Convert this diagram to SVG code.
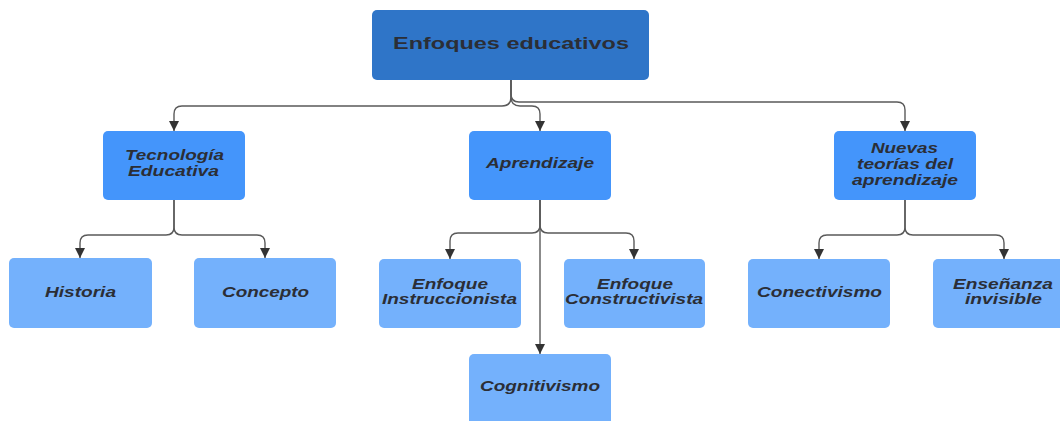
<svg xmlns="http://www.w3.org/2000/svg" width="1060" height="421" viewBox="0 0 1060 421">
<defs>
<marker id="arr" viewBox="0 0 10 10" refX="10" refY="5" markerUnits="userSpaceOnUse" markerWidth="10" markerHeight="10" orient="auto">
<path d="M0,0 L10,5 L0,10 Z" fill="#333"/>
</marker>
<style>
.root{fill:#2f75c8;}
.l2{fill:#4495fb;}
.l3{fill:#74b1fc;}
.t{font-family:"Liberation Sans",Arial,sans-serif;font-weight:bold;font-style:italic;font-size:15.5px;fill:#2b2e36;text-anchor:middle;}
.tr{font-family:"Liberation Sans",Arial,sans-serif;font-weight:bold;font-size:17px;fill:#2b2e36;text-anchor:middle;}
.c{fill:none;stroke:#5a5a5a;stroke-width:1.4;marker-end:url(#arr);}
</style>
</defs>
<rect width="1060" height="421" fill="#ffffff"/>
<g id="connectors">
<path class="c" d="M511,80 V97 Q511,106 502,106 H182 Q174,106 174,114 V131"/>
<path class="c" d="M511,80 V97 Q511,106 520,106 H532 Q540,106 540,114 V131"/>
<path class="c" d="M511,80 V94 Q511,102 519,102 H897 Q905,102 905,110 V131"/>
<path class="c" d="M174,200 V227 Q174,235 166,235 H88 Q80,235 80,243 V258"/>
<path class="c" d="M174,200 V227 Q174,235 182,235 H257 Q265,235 265,243 V258"/>
<path class="c" d="M540,200 V225 Q540,233 532,233 H458 Q450,233 450,241 V259"/>
<path class="c" d="M540,200 V225 Q540,233 548,233 H626 Q634,233 634,241 V259"/>
<path class="c" d="M540,200 V354"/>
<path class="c" d="M905,200 V227 Q905,235 897,235 H827 Q819,235 819,243 V259"/>
<path class="c" d="M905,200 V227 Q905,235 913,235 H996 Q1004,235 1004,243 V259"/>
</g>
<g id="n-enfoques">
<rect class="root" x="372" y="10" width="277" height="70" rx="5"/>
<text class="tr" x="511" y="48.5" textLength="236" lengthAdjust="spacingAndGlyphs">Enfoques educativos</text>
</g>
<g id="n-tecnologia">
<rect class="l2" x="103" y="131" width="142" height="69" rx="5"/>
<text class="t" x="174.5" y="160" textLength="99" lengthAdjust="spacingAndGlyphs">Tecnología</text>
<text class="t" x="173.5" y="176" textLength="91" lengthAdjust="spacingAndGlyphs">Educativa</text>
</g>
<g id="n-aprendizaje">
<rect class="l2" x="469" y="131" width="142" height="69" rx="5"/>
<text class="t" x="540" y="167.5" textLength="108" lengthAdjust="spacingAndGlyphs">Aprendizaje</text>
</g>
<g id="n-nuevas">
<rect class="l2" x="834" y="131" width="142" height="69" rx="5"/>
<text class="t" x="904.5" y="153" textLength="67" lengthAdjust="spacingAndGlyphs">Nuevas</text>
<text class="t" x="905" y="169" textLength="96" lengthAdjust="spacingAndGlyphs">teorías del</text>
<text class="t" x="905" y="184.5" textLength="106" lengthAdjust="spacingAndGlyphs">aprendizaje</text>
</g>
<g id="n-historia">
<rect class="l3" x="9" y="258" width="143" height="70" rx="5"/>
<text class="t" x="80.5" y="296.5" textLength="71" lengthAdjust="spacingAndGlyphs">Historia</text>
</g>
<g id="n-concepto">
<rect class="l3" x="194" y="258" width="142" height="70" rx="5"/>
<text class="t" x="265.5" y="296.5" textLength="87" lengthAdjust="spacingAndGlyphs">Concepto</text>
</g>
<g id="n-instruccionista">
<rect class="l3" x="379" y="259" width="142" height="69" rx="5"/>
<text class="t" x="450" y="289" textLength="76" lengthAdjust="spacingAndGlyphs">Enfoque</text>
<text class="t" x="449.5" y="304" textLength="135" lengthAdjust="spacingAndGlyphs">Instruccionista</text>
</g>
<g id="n-constructivista">
<rect class="l3" x="564" y="259" width="141" height="69" rx="5"/>
<text class="t" x="635" y="289" textLength="76" lengthAdjust="spacingAndGlyphs">Enfoque</text>
<text class="t" x="634" y="304" textLength="138" lengthAdjust="spacingAndGlyphs">Constructivista</text>
</g>
<g id="n-cognitivismo">
<rect class="l3" x="469" y="354" width="142" height="75" rx="5"/>
<text class="t" x="540" y="391" textLength="120" lengthAdjust="spacingAndGlyphs">Cognitivismo</text>
</g>
<g id="n-conectivismo">
<rect class="l3" x="748" y="259" width="142" height="69" rx="5"/>
<text class="t" x="819.5" y="296.5" textLength="125" lengthAdjust="spacingAndGlyphs">Conectivismo</text>
</g>
<g id="n-ensenanza">
<rect class="l3" x="933" y="259" width="142" height="69" rx="5"/>
<text class="t" x="1003" y="288.5" textLength="100" lengthAdjust="spacingAndGlyphs">Enseñanza</text>
<text class="t" x="1003.5" y="303.5" textLength="77" lengthAdjust="spacingAndGlyphs">invisible</text>
</g>
</svg>
